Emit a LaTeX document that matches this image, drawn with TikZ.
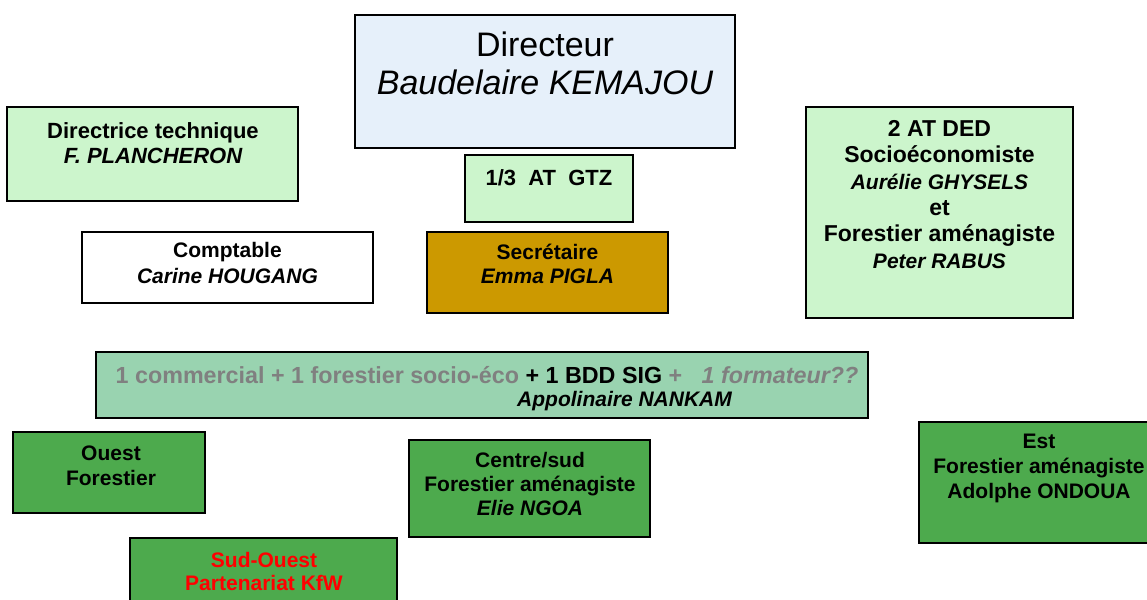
\documentclass[tikz,border=0pt]{standalone}
\usepackage{fontspec}
\setmainfont{Liberation Sans}
\definecolor{dirblue}{HTML}{E6F0FA}
\definecolor{lgreen}{HTML}{CCF5CC}
\definecolor{tealgreen}{HTML}{99D3B0}
\definecolor{dgreen}{HTML}{4DAA4D}
\definecolor{secgold}{HTML}{CC9900}
\definecolor{txtgray}{HTML}{808080}
\tikzset{
  box/.style={draw=black, line width=1.5pt, rectangle, inner sep=0pt},
  txt/.style={anchor=base, align=center, inner sep=0pt},
  fb/.style={font=\fontsize{21}{25}\selectfont\bfseries},
}
\begin{document}
\begin{tikzpicture}[x=1pt,y=-1pt]
\clip (0,0) rectangle (1147,599);
\fill[white] (0,0) rectangle (1147,599);
% boxes
\node[box, line width=2pt, fill=dirblue, minimum width=380pt, minimum height=133pt] (dir) at (545,81.5) {};
\node[box, fill=lgreen, minimum width=291pt, minimum height=94pt] (tech) at (152.5,154) {};
\node[box, fill=lgreen, minimum width=168pt, minimum height=67pt] (gtz) at (549,188.5) {};
\node[box, fill=white, minimum width=291pt, minimum height=71pt] (compt) at (227.5,267.5) {};
\node[box, fill=secgold, minimum width=241pt, minimum height=81pt] (secr) at (547.5,272.5) {};
\node[box, fill=lgreen, minimum width=267pt, minimum height=211pt] (ded) at (939.5,212.5) {};
\node[box, fill=tealgreen, minimum width=772pt, minimum height=66pt] (long) at (482,385) {};
\node[box, fill=dgreen, minimum width=192pt, minimum height=81pt] (ouest) at (109,472.5) {};
\node[box, fill=dgreen, minimum width=241pt, minimum height=97pt] (centre) at (529.5,488.5) {};
\node[box, fill=dgreen, minimum width=241pt, minimum height=121pt] (est) at (1039.5,482.5) {};
\node[box, fill=dgreen, minimum width=267pt, minimum height=82pt] (sudouest) at (263.5,579) {};
% texts (anchor = baseline of last line)
\node[txt, font=\fontsize{34}{38.5}\selectfont] (dir-t) at (545,95) {Directeur\\\itshape Baudelaire KEMAJOU};
\node[txt, font=\fontsize{22}{25}\selectfont\bfseries] (tech-t) at (153,163) {Directrice technique\\\itshape F. PLANCHERON};
\node[txt, font=\fontsize{22}{25}\selectfont\bfseries] (gtz-t) at (549,185) {1/3\ \ AT\ \ GTZ};
\node[txt, font=\fontsize{21}{26}\selectfont\bfseries] (compt-t) at (227.5,283) {Comptable\\\itshape Carine HOUGANG};
\node[txt, font=\fontsize{21}{23.5}\selectfont\bfseries] (secr-t) at (547.5,283) {Secrétaire\\\itshape Emma PIGLA};
\node[txt, font=\fontsize{23}{26.3}\selectfont\bfseries] (ded-t) at (939.5,268) {2 AT DED\\Socioéconomiste\\{\fontsize{21}{26.3}\selectfont\itshape Aurélie GHYSELS}\\et\\Forestier aménagiste\\{\fontsize{21}{26.3}\selectfont\itshape Peter RABUS}};
\node[txt, font=\fontsize{23.3}{26}\selectfont\bfseries] (long-t1) at (487,383) {\textcolor{txtgray}{1 commercial + 1 forestier socio-éco} + 1 BDD SIG \textcolor{txtgray}{+\ \ \ \itshape 1 formateur??}};
\node[txt, font=\fontsize{21}{25}\selectfont\bfseries\itshape] (long-t2) at (624.5,406) {Appolinaire NANKAM};
\node[txt, fb] (ouest-t) at (111,485) {Ouest\\Forestier};
\node[txt, font=\fontsize{21}{24}\selectfont\bfseries] (centre-t) at (530,515) {Centre/sud\\Forestier aménagiste\\\itshape Elie NGOA};
\node[txt, fb] (est-t) at (1039,498) {Est\\Forestier aménagiste\\Adolphe ONDOUA};
\node[txt, font=\fontsize{21}{23}\selectfont\bfseries, text=red] (sudouest-t) at (264,590) {Sud-Ouest\\Partenariat KfW};
\end{tikzpicture}
\end{document}
